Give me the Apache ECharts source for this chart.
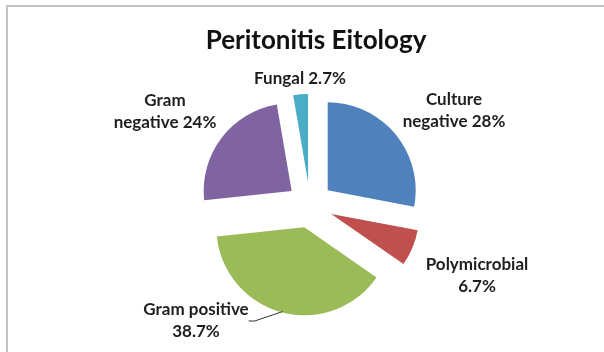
<!DOCTYPE html>
<html>
<head>
<meta charset="utf-8">
<script src="https://cdn.jsdelivr.net/npm/echarts@6/dist/echarts.min.js"></script>
<style>
  html, body { margin: 0; padding: 0; background: #fff; }
  #chart { width: 604px; height: 352px; }
</style>
</head>
<body>
<div id="chart"></div>
<script>
// data
const categories = ['Culture negative', 'Polymicrobial', 'Gram positive', 'Gram negative', 'Fungal'];
const values = [28, 6.7, 38.7, 24, 2.7];
// where the label breaks: after first word, before the value, or no break
const labelWrap = ['word', 'value', 'value', 'word', 'none'];

const colors = ['#4F81BD', '#C0504D', '#9BBB59', '#8064A2', '#4BACC6'];
// label centres in the picture
const labelPos = [[454, 111], [477, 276], [196, 321], [165, 112], [300, 79]];

const chart = echarts.init(document.getElementById('chart'), null, { renderer: 'canvas' });

function labelText(p) {
  const i = p.dataIndex;
  const v = p.value + '%';
  if (labelWrap[i] === 'word') {
    const k = p.name.indexOf(' ');
    return p.name.slice(0, k) + '\n' + p.name.slice(k + 1) + ' ' + v;
  }
  if (labelWrap[i] === 'value') return p.name + '\n' + v;
  return p.name + ' ' + v;
}

// exploded slices (all selected)
const sliceData = categories.map(function (name, i) {
  return { name: name, value: values[i], selected: true, itemStyle: { color: colors[i] } };
});

// invisible twin pie that only carries the labels
// (labels of selected slices ignore labelLayout)
const labelData = categories.map(function (name, i) {
  return { name: name, value: values[i], labelLine: { show: i === 2 } };
});

const option = {
  animation: false,
  backgroundColor: '#fff',
  title: {
    text: 'Peritonitis Eitology',
    left: 311,
    top: 23,
    textAlign: 'center',
    textStyle: { fontFamily: 'Lato', fontWeight: 'bold', fontSize: 26, color: '#111' }
  },
  graphic: [{
    type: 'rect',
    shape: { x: 7, y: 6, width: 640, height: 400 },
    style: { fill: 'none', stroke: '#c4c4c4', lineWidth: 2 },
    silent: true
  }],
  series: [{
    type: 'pie',
    center: [310, 205],
    radius: 88,
    startAngle: 90,
    clockwise: true,
    selectedMode: 'multiple',
    selectedOffset: 23,
    emphasis: { scale: false },
    label: { show: false },
    labelLine: { show: false },
    data: sliceData
  }, {
    type: 'pie',
    center: [310, 205],
    radius: 110,
    startAngle: 90,
    clockwise: true,
    silent: true,
    z: 3,
    itemStyle: { color: 'rgba(0,0,0,0)' },
    emphasis: { disabled: true },
    data: labelData,
    label: {
      show: true,
      position: 'outside',
      formatter: labelText,
      fontFamily: 'Lato',
      fontWeight: 'bold',
      fontSize: 17,
      lineHeight: 22,
      color: '#1e1e1e',
      align: 'center'
    },
    labelLine: {
      length: 6,
      length2: 6,
      lineStyle: { color: '#333', width: 1 }
    },
    labelLayout: function (params) {
      const pos = labelPos[params.dataIndex];
      return { x: pos[0], y: pos[1], align: 'center', verticalAlign: 'middle' };
    }
  }]
};

chart.setOption(option);
</script>
</body>
</html>
